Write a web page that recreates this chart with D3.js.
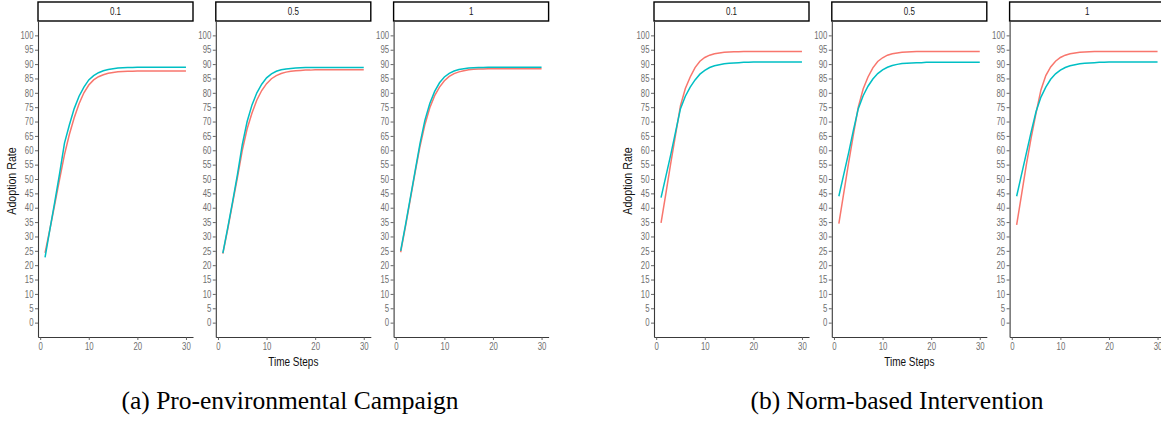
<!DOCTYPE html>
<html>
<head>
<meta charset="utf-8">
<script src="https://cdn.jsdelivr.net/npm/d3@7"></script>
<style>
  html, body { margin: 0; padding: 0; background: #fff; }
  svg { display: block; }
</style>
</head>
<body>
<svg id="chart" width="1161" height="425"></svg>
<script>
// ---------------- DATA ----------------
const timeSteps = [1,2,3,4,5,6,7,8,9,10,11,12,13,14,15,16,17,18,19,20,21,22,23,24,25,26,27,28,29,30];
const facetLabels = ["0.1", "0.5", "1"];
const yTickValues = [0,5,10,15,20,25,30,35,40,45,50,55,60,65,70,75,80,85,90,95,100];
const xTickValues = [0,10,20,30];
const captions = ["(a) Pro-environmental Campaign", "(b) Norm-based Intervention"];
const yAxisTitle = "Adoption Rate";
const xAxisTitle = "Time Steps";

// (a) Pro-environmental Campaign
const campaignRed01  = [24.3,32.5,41.2,50,58.5,65.5,71.3,76.2,80,82.7,84.5,85.6,86.3,86.8,87.1,87.3,87.4,87.5,87.5,87.6,87.6,87.6,87.6,87.6,87.6,87.6,87.6,87.6,87.6,87.6];
const campaignCyan01 = [22.7,32.5,42,52,62.5,68.8,74.5,78.8,82,84.5,86,87,87.7,88.1,88.4,88.6,88.7,88.8,88.8,88.9,88.9,88.9,88.9,88.9,88.9,88.9,88.9,88.9,88.9,88.9];
const campaignRed05  = [24,32.5,41.5,50.5,60,67.5,73,77.5,80.8,83.2,84.9,86,86.7,87.2,87.5,87.7,87.8,87.9,87.9,88,88,88,88,88,88,88,88,88,88,88];
const campaignCyan05 = [24.2,33,42,51.5,62,70,75.8,80,83,85.2,86.6,87.5,88,88.3,88.5,88.6,88.7,88.8,88.8,88.8,88.8,88.8,88.8,88.8,88.8,88.8,88.8,88.8,88.8,88.8];
const campaignRed1   = [24.5,33.5,43,52.5,61.5,69,74.8,79,82,84.2,85.7,86.7,87.3,87.7,88,88.2,88.3,88.3,88.4,88.4,88.4,88.4,88.4,88.4,88.4,88.4,88.4,88.4,88.4,88.4];
const campaignCyan1  = [25,34,43.5,53,62.5,70.5,76.3,80.5,83.5,85.5,86.8,87.6,88.1,88.4,88.6,88.7,88.8,88.8,88.9,88.9,88.9,88.9,88.9,88.9,88.9,88.9,88.9,88.9,88.9,88.9];

// (b) Norm-based Intervention
const normRed01  = [34.7,45,55.5,65.5,75.5,81.5,85.5,88.8,91,92.3,93.1,93.6,93.9,94.1,94.2,94.3,94.3,94.4,94.4,94.4,94.4,94.4,94.4,94.4,94.4,94.4,94.4,94.4,94.4,94.4];
const normCyan01 = [43.5,51,58.5,66.5,74.5,78.8,82,84.5,86.5,87.8,88.8,89.4,89.8,90.1,90.3,90.4,90.5,90.6,90.6,90.7,90.7,90.7,90.7,90.7,90.7,90.7,90.7,90.7,90.7,90.7];
const normRed05  = [34.5,45,55.5,65.5,75,81.3,85.5,88.7,90.9,92.2,93.1,93.6,93.9,94.1,94.2,94.3,94.4,94.4,94.4,94.4,94.4,94.4,94.4,94.4,94.4,94.4,94.4,94.4,94.4,94.4];
const normCyan05 = [44,51.5,59,67,74.5,79,82.3,84.8,86.7,88,88.9,89.5,89.9,90.2,90.3,90.4,90.5,90.5,90.6,90.6,90.6,90.6,90.6,90.6,90.6,90.6,90.6,90.6,90.6,90.6];
const normRed1   = [34,44.5,55,64.5,73,81,86,89,91,92.3,93.1,93.6,93.9,94.1,94.2,94.3,94.4,94.4,94.4,94.4,94.4,94.4,94.4,94.4,94.4,94.4,94.4,94.4,94.4,94.4];
const normCyan1  = [44,51.5,59,66.5,73.5,78.5,82,84.7,86.6,87.9,88.8,89.4,89.8,90.1,90.3,90.4,90.5,90.6,90.6,90.7,90.7,90.7,90.7,90.7,90.7,90.7,90.7,90.7,90.7,90.7];

const campaignPanels = [[campaignRed01, campaignCyan01],[campaignRed05, campaignCyan05],[campaignRed1, campaignCyan1]];
const normPanels     = [[normRed01, normCyan01],[normRed05, normCyan05],[normRed1, normCyan1]];

// ---------------- LAYOUT / STYLE ----------------
const RED = "#F8766D", CYAN = "#00BFC4";
const sans = "'Liberation Sans',Arial,sans-serif";
const plotTop = 21, plotBottom = 337, panelW = 155, panelStep = 177.8;
const stripTop = 2;

const svg = d3.select("#chart");
svg.append("rect").attr("width",1161).attr("height",425).attr("fill","#fff");

const y = d3.scaleLinear().domain([-5,105]).range([plotBottom, plotTop]);

// horizontally condense text (reference uses a narrow rendering)
function condense(sel, f) {
  sel.each(function() {
    const w = this.getComputedTextLength();
    if (w > 0) {
      this.setAttribute("textLength", (w * f).toFixed(2));
      this.setAttribute("lengthAdjust", "spacingAndGlyphs");
    }
  });
}

function drawFigure(left0, panels, caption, titleX, captionX) {
  panels.forEach((series, i) => {
    const left = left0 + i * panelStep;
    const x = d3.scaleLinear().domain([-0.45, 31.45]).range([left, left + panelW]);
    const g = svg.append("g");

    // strip
    g.append("rect")
      .attr("x", left).attr("y", stripTop)
      .attr("width", panelW).attr("height", plotTop - stripTop)
      .attr("fill", "#fff").attr("stroke", "#000").attr("stroke-width", 1.4);
    const st = g.append("text")
      .attr("x", left + panelW/2).attr("y", (stripTop + plotTop)/2 + 3.4)
      .attr("text-anchor","middle")
      .attr("font-family", sans).attr("font-size", 10).attr("fill","#1a1a1a")
      .text(facetLabels[i]);
    condense(st, 0.8);

    // lines
    const line = d3.line().x((d,k) => x(timeSteps[k])).y(d => y(d));
    g.append("path").datum(series[0]).attr("d", line)
      .attr("fill","none").attr("stroke", RED).attr("stroke-width", 1.5);
    g.append("path").datum(series[1]).attr("d", line)
      .attr("fill","none").attr("stroke", CYAN).attr("stroke-width", 1.5);

    // axes
    const ya = g.append("g").attr("transform", `translate(${left},0)`)
      .call(d3.axisLeft(y).tickValues(yTickValues).tickSize(3).tickSizeOuter(0).tickPadding(1.5));
    const xa = g.append("g").attr("transform", `translate(0,${plotBottom})`)
      .call(d3.axisBottom(x).tickValues(xTickValues).tickSize(3).tickSizeOuter(0).tickPadding(2.5));
    [ya, xa].forEach(a => {
      a.select(".domain").attr("stroke","#3a3a3a").attr("stroke-width",1.1);
      a.selectAll(".tick line").attr("stroke","#555").attr("stroke-width",0.9);
      a.selectAll(".tick text").attr("font-family", sans).attr("font-size", 10).attr("fill","#707070");
      condense(a.selectAll(".tick text"), 0.78);
    });
  });

  const right = left0 + 2*panelStep + panelW;
  const xt = svg.append("text")
    .attr("x", (left0 + right)/2).attr("y", 366)
    .attr("text-anchor","middle")
    .attr("font-family", sans).attr("font-size", 12.5).attr("fill","#111")
    .text(xAxisTitle);
  condense(xt, 0.8);
  const yt = svg.append("text")
    .attr("transform", `translate(${titleX},${(plotTop+plotBottom)/2 + 2}) rotate(-90)`)
    .attr("text-anchor","middle")
    .attr("font-family", sans).attr("font-size", 12.5).attr("fill","#111")
    .text(yAxisTitle);
  condense(yt, 0.85);
  svg.append("text")
    .attr("x", captionX).attr("y", 409)
    .attr("text-anchor","middle")
    .attr("font-family", "'Liberation Serif','Times New Roman',serif").attr("font-size", 25.5).attr("fill","#000")
    .text(caption);
}

drawFigure(38, campaignPanels, captions[0], 16, 290);
drawFigure(654, normPanels, captions[1], 632, 897);
</script>
</body>
</html>
